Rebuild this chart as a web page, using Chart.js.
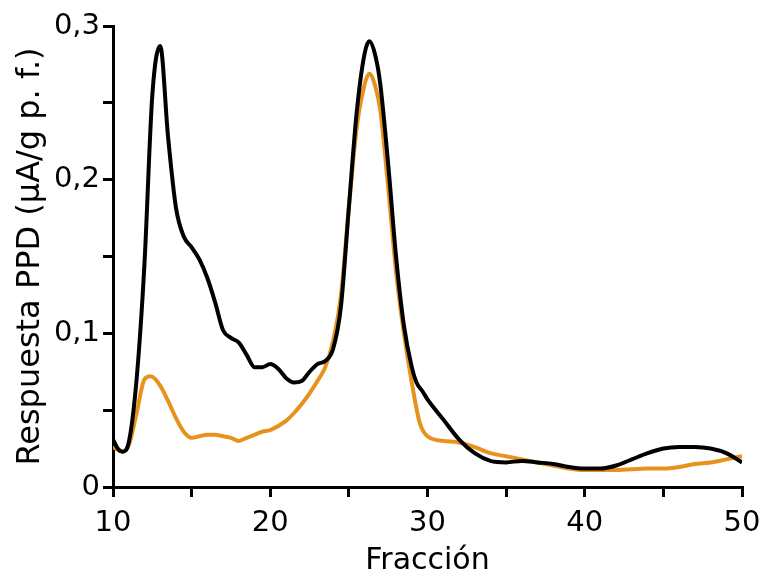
<!DOCTYPE html>
<html>
<head>
<meta charset="utf-8">
<script src="https://cdn.jsdelivr.net/npm/chart.js@4"></script>
<style>
  html, body { margin: 0; padding: 0; background: #fff; }
  #wrap { width: 766px; height: 579px; }
</style>
</head>
<body>
<div id="wrap"><canvas id="chart" width="766" height="579"></canvas></div>
<script>
// black trace
var fracBlack = [10, 10.3, 10.6, 11, 11.5, 12, 12.5, 13, 13.5, 14, 14.5, 15, 15.5, 16, 16.5, 17, 17.5, 18, 18.5, 19, 19.5, 20, 20.5, 21, 21.5, 22, 22.5, 23, 23.5, 24, 24.5, 25, 25.5, 26, 26.3, 26.7, 27, 27.5, 28, 28.5, 29, 29.3, 29.7, 30, 31, 32, 33, 34, 35, 36, 37, 38, 39, 40, 41, 42, 43, 44, 45, 46, 47, 48, 49, 50];
var respBlack = [0.031, 0.025, 0.023, 0.029, 0.070, 0.145, 0.255, 0.287, 0.228, 0.182, 0.163, 0.156, 0.148, 0.136, 0.120, 0.102, 0.097, 0.094, 0.086, 0.078, 0.078, 0.080, 0.077, 0.071, 0.068, 0.069, 0.075, 0.080, 0.082, 0.090, 0.118, 0.182, 0.244, 0.282, 0.290, 0.280, 0.262, 0.210, 0.150, 0.105, 0.078, 0.068, 0.062, 0.057, 0.044, 0.031, 0.022, 0.017, 0.016, 0.017, 0.016, 0.015, 0.013, 0.012, 0.012, 0.014, 0.018, 0.022, 0.025, 0.026, 0.026, 0.025, 0.022, 0.016];

// orange trace
var fracOrange = [10, 10.6, 11, 11.5, 12, 12.4, 13, 13.5, 14, 14.5, 15, 15.5, 16, 16.5, 17, 17.5, 18, 18.5, 19, 19.5, 20, 21, 21.5, 22, 22.5, 23, 23.5, 24, 24.5, 25, 25.5, 26, 26.3, 26.7, 27, 27.5, 28, 28.5, 29, 29.5, 30, 31, 32, 33, 34, 35, 36, 37, 38, 39, 40, 42, 44, 45, 46, 47, 48, 49, 50];
var respOrange = [0.026, 0.023, 0.027, 0.048, 0.070, 0.072, 0.066, 0.056, 0.045, 0.036, 0.032, 0.033, 0.034, 0.034, 0.033, 0.032, 0.030, 0.032, 0.034, 0.036, 0.037, 0.043, 0.048, 0.054, 0.061, 0.069, 0.078, 0.095, 0.125, 0.182, 0.234, 0.262, 0.269, 0.260, 0.245, 0.195, 0.140, 0.100, 0.068, 0.042, 0.033, 0.030, 0.029, 0.026, 0.022, 0.020, 0.018, 0.016, 0.014, 0.012, 0.011, 0.011, 0.012, 0.012, 0.013, 0.015, 0.016, 0.018, 0.020];

function pts(xs, ys) {
    return xs.map(function (x, i) { return { x: x, y: ys[i] }; });
}

var font = "'DejaVu Sans', Verdana, sans-serif";

new Chart(document.getElementById("chart"), {
    type: "line",
    data: {
        datasets: [{
            data: pts(fracBlack, respBlack),
            borderColor: "#000000",
            borderWidth: 4,
            pointRadius: 0,
            fill: false,
            cubicInterpolationMode: "monotone"
        }, {
            data: pts(fracOrange, respOrange),
            borderColor: "#E8921E",
            borderWidth: 4,
            pointRadius: 0,
            fill: false,
            cubicInterpolationMode: "monotone"
        }]
    },
    options: {
        responsive: false,
        animation: false,
        layout: { padding: { left: 6, right: 24, top: 26, bottom: 0 } },
        plugins: { legend: { display: false }, tooltip: { enabled: false } },
        scales: {
            x: {
                type: "linear",
                min: 10,
                max: 50,
                border: { color: "#000", width: 3 },
                grid: { drawOnChartArea: false, color: "#000", lineWidth: 3, tickLength: 10 },
                ticks: {
                    stepSize: 5,
                    color: "#000",
                    font: { family: font, size: 29 },
                    padding: 9,
                    maxRotation: 0,
                    callback: function (v) { return v % 10 === 0 ? String(v) : ""; }
                },
                title: {
                    display: true,
                    text: "Fracción",
                    color: "#000",
                    font: { family: font, size: 30 },
                    padding: { top: 0, bottom: 0 }
                },
                afterFit: function (s) {
                    s.height = 579 - 487;
                    s.paddingLeft = 0;
                    s.paddingRight = 0;
                }
            },
            y: {
                min: 0,
                max: 0.3,
                border: { color: "#000", width: 3 },
                grid: { drawOnChartArea: false, color: "#000", lineWidth: 3, tickLength: 10 },
                ticks: {
                    stepSize: 0.05,
                    color: "#000",
                    font: { family: font, size: 29 },
                    padding: 3,
                    callback: function (v) {
                        var r = Math.round(v * 100);
                        if (r % 10 !== 0) return "";
                        return r === 0 ? "0" : (r / 100).toFixed(1).replace(".", ",");
                    }
                },
                title: {
                    display: true,
                    text: "Respuesta PPD (µA/g p. f.)",
                    color: "#000",
                    font: { family: font, size: 32 },
                    padding: { top: 5, bottom: 0 }
                },
                afterFit: function (s) {
                    s.width = 113 - 6;
                    s.paddingTop = 0;
                    s.paddingBottom = 0;
                }
            }
        }
    }
});
</script>
</body>
</html>
